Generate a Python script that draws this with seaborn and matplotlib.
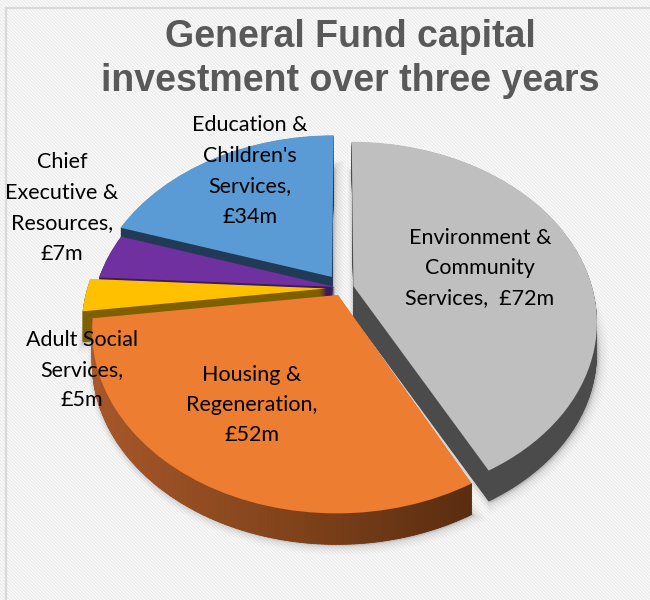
import numpy as np
import matplotlib
matplotlib.use("Agg")
import matplotlib.pyplot as plt
import matplotlib.transforms as mtransforms
import seaborn as sns
from matplotlib.patches import Rectangle
from matplotlib.lines import Line2D
from matplotlib.collections import PolyCollection
from matplotlib.colors import LinearSegmentedColormap

# Capital programme by service area (£m, three-year total)
departments = [
    "Environment & Community Services",
    "Housing & Regeneration",
    "Adult Social Services",
    "Chief Executive & Resources",
    "Education & Children's Services",
]
spend_m = [72, 52, 5, 7, 34]
slice_labels = [
    "Environment &\nCommunity\nServices,  £72m",
    "Housing &\nRegeneration,\n£52m",
    "Adult Social\nServices,\n£5m",
    "Chief\nExecutive &\nResources,\n£7m",
    "Education &\nChildren's\nServices,\n£34m",
]
top_colors = ["#bfbfbf", "#ed7d31", "#ffc000", "#7030a0", "#5b9bd5"]
side_colors = ["#4b4b4b", "#7a3e17", "#7f6000", "#3d1a5a", "#213b57"]
explode = [0.045, 0.045, 0.07, 0.035, 0.08]

sns.set_theme(style="white")
plt.rcParams["font.family"] = ["Lato", "DejaVu Sans"]
plt.rcParams["hatch.linewidth"] = 1.0

W, H = 650, 600
fig = plt.figure(figsize=(W / 100, H / 100), dpi=100)
fig.patch.set_facecolor("white")

# striped backdrop with a thin frame on the left and top
bg = fig.add_axes([0, 0, 1, 1], zorder=0)
bg.set_axis_off()
bg.set_xlim(0, W)
bg.set_ylim(H, 0)
bg.add_patch(Rectangle((0, 0), W, H, facecolor="white", edgecolor="#ebebeb",
                       hatch="\\" * 10, lw=0))
bg.add_line(Line2D([5.5, 5.5], [7.5, H], color="#d9d9d9", lw=1.6))
bg.add_line(Line2D([5.5, W], [7.5, 7.5], color="#d9d9d9", lw=1.6))


class TiltProjection(mtransforms.Transform):
    """Perspective view of the unit pie plane, returned in pixel units."""
    input_dims = output_dims = 2
    is_separable = False
    has_inverse = False

    def __init__(self, cx, cy, rx, ry, k):
        super().__init__()
        self.cx, self.cy, self.rx, self.ry, self.k = cx, cy, rx, ry, k

    def transform_non_affine(self, values):
        v = np.asarray(values, dtype=float).reshape(-1, 2)
        w = 1.0 + self.k * v[:, 1]
        return np.column_stack([self.cx + self.rx * v[:, 0] / w,
                                self.cy - self.ry * v[:, 1] / w])


# centre, radii, perspective strength and thickness (pixels)
cx, cy, rx, ry, persp, depth_px = 343, 288, 239, 173, 0.194, 31

ax = fig.add_axes([0, 0, 1, 1], zorder=1)
ax.set_axis_off()
tilt = TiltProjection(cx, cy, rx, ry, persp)
to_screen = tilt + ax.transData


def pie_kw(transform, **extra):
    wp = dict(linewidth=0, antialiased=True, transform=transform, **extra)
    return dict(explode=explode, startangle=90, counterclock=False, radius=1.0,
                wedgeprops=wp)


# soft drop shadow
for grow, a in zip(np.linspace(12, 2, 6), np.linspace(0.01, 0.035, 6)):
    sh = mtransforms.offset_copy(to_screen, fig=fig, x=grow * 0.3, y=-depth_px - grow * 0.2,
                                 units="dots")
    ws, _ = ax.pie(spend_m, colors=["#000000"] * len(spend_m), **pie_kw(sh))
    for w in ws:
        w.set_alpha(a)
        w.set_linewidth(grow)
        w.set_edgecolor((0, 0, 0, a))

# extruded body: stacked darker copies shifted down on screen
for dz in np.linspace(depth_px, 0.5, 50):
    shift = mtransforms.offset_copy(to_screen, fig=fig, x=0, y=-dz, units="dots")
    ax.pie(spend_m, colors=side_colors, **pie_kw(shift))

wedges_top, _ = ax.pie(spend_m, colors=top_colors, **pie_kw(to_screen))
for w in wedges_top:
    w.set_zorder(5)

ax.set_aspect("auto")
ax.set_xlim(0, W)
ax.set_ylim(H, 0)

# shaded outer rim of the housing slice (lighter on the left, darker on the right)
hw = wedges_top[1]
th = np.radians(np.linspace(hw.theta1, hw.theta2, 160))
x0, y0 = hw.center
rim_top = tilt.transform(np.column_stack([x0 + np.cos(th), y0 + np.sin(th)]))
rim_low = rim_top + np.array([0, depth_px])
quads = [[rim_top[i], rim_top[i + 1], rim_low[i + 1], rim_low[i]]
         for i in range(len(th) - 1)]
rim_cmap = LinearSegmentedColormap.from_list("rim", ["#a8582a", "#83441b", "#5a2d11"])
xs = 0.5 * (rim_top[:-1, 0] + rim_top[1:, 0])
rim_cols = rim_cmap((xs - xs.min()) / (xs.max() - xs.min()))
ax.add_collection(PolyCollection(quads, facecolors=rim_cols, edgecolors=rim_cols,
                                 linewidths=0.6, zorder=4))

# slice labels
label_pos = [(480, 268), (252, 405), (82, 370), (62, 208), (250, 171)]
for text, (px, py) in zip(slice_labels, label_pos):
    fig.text(px / W, 1 - py / H, text, ha="center", va="center",
             multialignment="center", fontsize=15.5, linespacing=1.65,
             color="black", zorder=10)

# title
fig.text(350 / W, 1 - 59 / H, "General Fund capital\ninvestment over three years",
         ha="center", va="center", multialignment="center",
         family=["Liberation Sans", "DejaVu Sans"], fontweight="bold",
         fontsize=27, color="#595959", linespacing=1.32, zorder=10)

fig.savefig("out.png", dpi=100)
